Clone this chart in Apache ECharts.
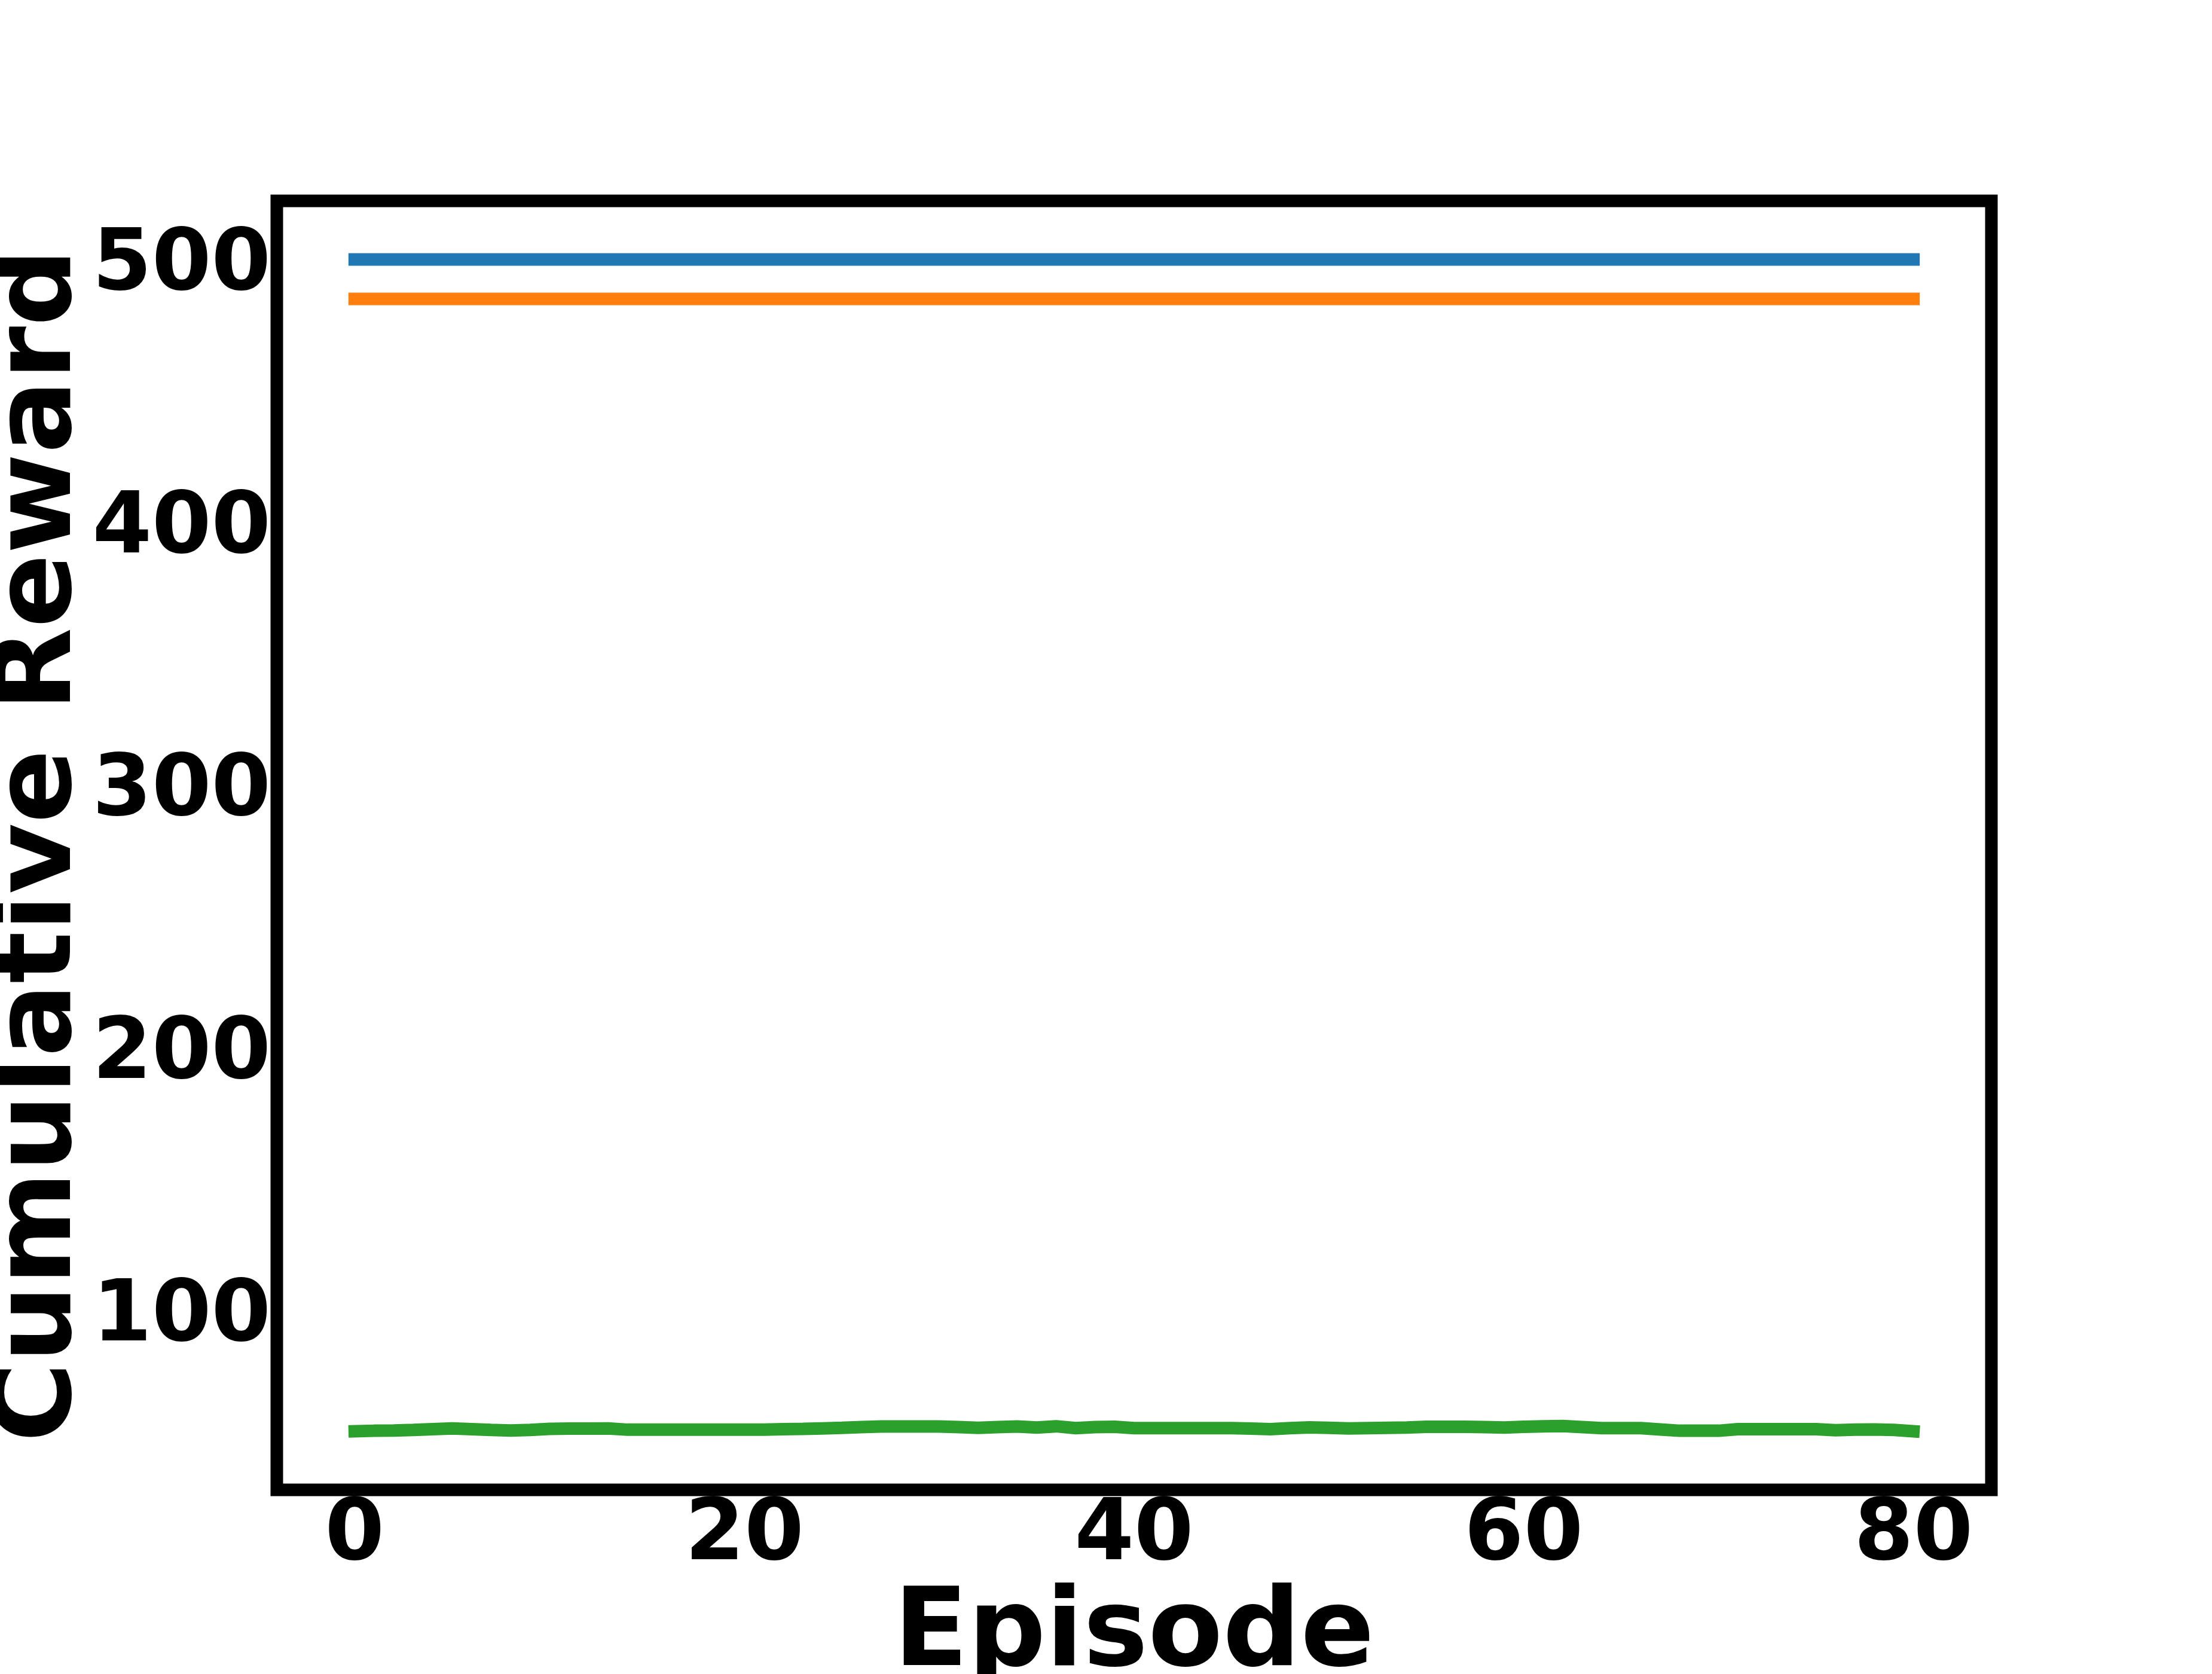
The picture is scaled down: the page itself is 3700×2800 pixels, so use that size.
<!DOCTYPE html>
<html>
<head>
<meta charset="utf-8">
<script src="https://cdn.jsdelivr.net/npm/echarts@6/dist/echarts.min.js"></script>
<style>
  html, body { margin: 0; padding: 0; background: #fff; }
  #main { width: 3700px; height: 2800px; }
</style>
</head>
<body>
<div id="main"></div>
<script>
// episodes on the x axis
var episodes = [0,1,2,3,4,5,6,7,8,9,10,11,12,13,14,15,16,17,18,19,20,
  21,22,23,24,25,26,27,28,29,30,31,32,33,34,35,36,37,38,39,40,
  41,42,43,44,45,46,47,48,49,50,51,52,53,54,55,56,57,58,59,60,
  61,62,63,64,65,66,67,68,69,70,71,72,73,74,75,76,77,78,79,80];

var blueReward = [500,500,500,500,500,500,500,500,500,500,500,500,500,500,500,500,500,500,500,500,500,
  500,500,500,500,500,500,500,500,500,500,500,500,500,500,500,500,500,500,500,500,
  500,500,500,500,500,500,500,500,500,500,500,500,500,500,500,500,500,500,500,500,
  500,500,500,500,500,500,500,500,500,500,500,500,500,500,500,500,500,500,500,500];

var orangeReward = [485,485,485,485,485,485,485,485,485,485,485,485,485,485,485,485,485,485,485,485,485,
  485,485,485,485,485,485,485,485,485,485,485,485,485,485,485,485,485,485,485,485,
  485,485,485,485,485,485,485,485,485,485,485,485,485,485,485,485,485,485,485,485,
  485,485,485,485,485,485,485,485,485,485,485,485,485,485,485,485,485,485,485,485];

var greenReward = [54.0,54.2,54.3,54.5,54.8,55.1,54.8,54.5,54.3,54.5,54.9,
  55.0,55.0,55.1,54.6,54.6,54.6,54.6,54.6,54.6,54.6,
  54.6,54.8,54.9,55.1,55.3,55.6,55.8,55.8,55.8,55.8,
  55.6,55.3,55.6,55.8,55.4,55.9,55.2,55.6,55.7,55.2,
  55.2,55.2,55.2,55.2,55.2,55.0,54.8,55.2,55.5,55.3,
  55.1,55.2,55.3,55.4,55.7,55.7,55.7,55.6,55.4,55.7,
  55.9,56.0,55.6,55.2,55.2,55.2,54.7,54.2,54.2,54.2,
  54.8,54.8,54.8,54.8,54.8,54.4,54.6,54.7,54.5,54.0];

var xTicks = [0, 20, 40, 60, 80];
var yTicks = [100, 200, 300, 400, 500];

function pairs(ys) {
    return episodes.map(function (x, i) { return [x, ys[i]]; });
}

var chart = echarts.init(document.getElementById('main'));

var font = 'DejaVu Sans';

function lineSeries(name, ys, color) {
    return {
        name: name,
        type: 'line',
        data: pairs(ys),
        showSymbol: false,
        symbol: 'none',
        animation: false,
        lineStyle: { color: color, width: 21, cap: 'square' }
    };
}

option = {
    backgroundColor: '#ffffff',
    grid: {
        left: 463,
        top: 336,
        width: 2868,
        height: 2156,
        containLabel: false,
        outerBoundsMode: 'none',
        show: true,
        borderColor: '#000000',
        borderWidth: 21
    },
    xAxis: {
        type: 'value',
        min: -4,
        max: 84,
        name: 'Episode',
        nameLocation: 'middle',
        nameGap: 130,
        nameTextStyle: { fontFamily: font, fontWeight: 'bold', fontSize: 182, color: '#000' },
        axisLine: { show: false },
        axisTick: { show: false },
        splitLine: { show: false },
        axisLabel: {
            customValues: xTicks,
            margin: 7,
            fontFamily: font,
            fontWeight: 'bold',
            fontSize: 143,
            color: '#000'
        }
    },
    yAxis: {
        type: 'value',
        min: 31.7,
        max: 522.3,
        name: 'Cumulative Reward',
        nameLocation: 'middle',
        nameRotate: 90,
        nameGap: 302,
        nameMoveOverlap: false,
        nameTextStyle: { fontFamily: font, fontWeight: 'bold', fontSize: 182, color: '#000' },
        axisLine: { show: false },
        axisTick: { show: false },
        splitLine: { show: false },
        axisLabel: {
            customValues: yTicks,
            margin: 10,
            formatter: '{t|{value}}',
            rich: {
                t: {
                    padding: [26, 0, 0, 0],
                    fontFamily: font,
                    fontWeight: 'bold',
                    fontSize: 143,
                    color: '#000'
                }
            },
            fontFamily: font,
            fontWeight: 'bold',
            fontSize: 143,
            color: '#000'
        }
    },
    series: [
        lineSeries('blue', blueReward, '#1f77b4'),
        lineSeries('orange', orangeReward, '#ff7f0e'),
        lineSeries('green', greenReward, '#2ca02c')
    ]
};

chart.setOption(option);
</script>
</body>
</html>
